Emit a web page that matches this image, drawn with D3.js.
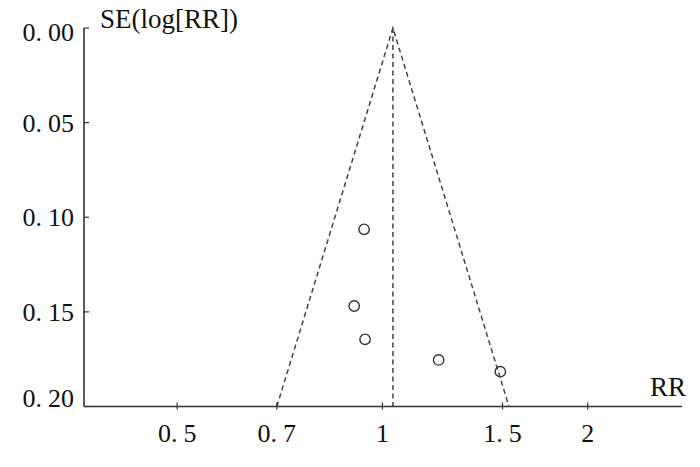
<!DOCTYPE html>
<html><head><meta charset="utf-8">
<script src="https://cdn.jsdelivr.net/npm/d3@7"></script>
<style>body{margin:0;background:#fff}svg{display:block}</style>
</head><body>
<svg id="c" width="700" height="467"></svg>
<script>
const studyRR = [0.940, 0.909, 0.943, 1.209, 1.489];
const studySE = [0.1064, 0.1469, 0.1645, 0.1754, 0.1816];
const xTicks = [0.5, 0.7, 1, 1.5, 2];
const xTickLabels = ["0.5", "0.7", "1", "1.5", "2"];
const yTicks = [0, 0.05, 0.10, 0.15, 0.20];
const yTickLabels = ["0.00", "0.05", "0.10", "0.15", "0.20"];
const pooledRR = 1.036;
const seMax = 0.2;
const z = 1.96;

const svg = d3.select("#c");
const x = d3.scaleLog().domain([0.365, 2.75]).range([84, 682]);
const y = d3.scaleLinear().domain([0, seMax]).range([28, 406.5]);
const ink = "#333";
const labelFont = "'Liberation Serif', serif";

// funnel
const apex = [x(pooledRR), y(0)];
const leftEnd = [x(pooledRR * Math.exp(-z * seMax)), y(seMax)];
const rightEnd = [x(pooledRR * Math.exp(z * seMax)), y(seMax)];
const dash = "5,3.5";
svg.append("path").attr("d", d3.line()([leftEnd, apex, rightEnd]))
  .attr("fill", "none").attr("stroke", "#444").attr("stroke-width", 1.5).attr("stroke-dasharray", dash);
svg.append("line").attr("x1", x(pooledRR)).attr("x2", x(pooledRR)).attr("y1", y(0)).attr("y2", y(seMax))
  .attr("stroke", "#444").attr("stroke-width", 1.5).attr("stroke-dasharray", dash);

// axes
svg.append("line").attr("x1", 84).attr("x2", 84).attr("y1", y(0)).attr("y2", y(seMax))
  .attr("stroke", ink).attr("stroke-width", 1.6);
svg.append("line").attr("x1", 84).attr("x2", 682).attr("y1", y(seMax)).attr("y2", y(seMax))
  .attr("stroke", ink).attr("stroke-width", 1.6);

// y ticks
yTicks.forEach((t, i) => {
  svg.append("line").attr("x1", 84).attr("x2", 89).attr("y1", y(t)).attr("y2", y(t))
    .attr("stroke", ink).attr("stroke-width", 1.2);
  const ty = Math.min(Math.max(y(t), 31.5), 398);
  const parts = yTickLabels[i].split(".");
  const tx = svg.append("text").attr("x", 74).attr("y", ty).attr("dy", "0.35em")
    .attr("text-anchor", "end").attr("font-family", labelFont).attr("font-size", 26).attr("fill", "#111");
  tx.append("tspan").text(parts[0] + ".");
  tx.append("tspan").attr("dx", 6).text(parts[1]);
});

// x ticks
xTicks.forEach((t, i) => {
  svg.append("line").attr("x1", x(t)).attr("x2", x(t)).attr("y1", y(seMax) - 4).attr("y2", y(seMax) + 3)
    .attr("stroke", ink).attr("stroke-width", 1.2);
  const lab = xTickLabels[i];
  const tx = svg.append("text").attr("x", x(t)).attr("y", 442)
    .attr("text-anchor", "middle").attr("font-family", labelFont).attr("font-size", 26).attr("fill", "#111");
  if (lab.includes(".")) {
    const p = lab.split(".");
    tx.append("tspan").text(p[0] + ".");
    tx.append("tspan").attr("dx", 6).text(p[1]);
  } else tx.text(lab);
});

// axis titles
svg.append("text").attr("x", 100).attr("y", 28).attr("font-family", labelFont)
  .attr("font-size", 27).attr("fill", "#111").text("SE(log[RR])");
svg.append("text").attr("x", 686).attr("y", 396).attr("text-anchor", "end").attr("font-family", labelFont)
  .attr("font-size", 27).attr("fill", "#111").text("RR");

// points
svg.selectAll("circle.pt").data(studyRR.map((r, i) => ({r, se: studySE[i]}))).enter()
  .append("circle").attr("class", "pt")
  .attr("cx", d => x(d.r)).attr("cy", d => y(d.se)).attr("r", 5.2)
  .attr("fill", "none").attr("stroke", ink).attr("stroke-width", 1.4);
</script>
</body></html>
